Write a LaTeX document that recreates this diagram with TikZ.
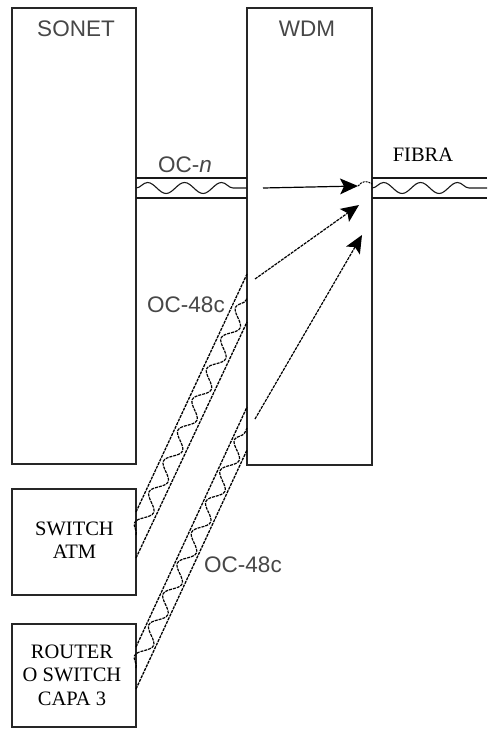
\documentclass[tikz,border=0pt]{standalone}
\usepackage{fontspec}
\setmainfont{Liberation Serif}
\newfontfamily\arialf{Liberation Sans}
\usetikzlibrary{decorations.pathmorphing,calc}
\newcommand\myhead[2]{%
  \fill[black] (#2) -- ($(#2)!18pt!(#1)!8pt!90:(#1)$) -- ($(#2)!14pt!(#1)$) -- ($(#2)!18pt!(#1)!8pt!-90:(#1)$) -- cycle;}
\begin{document}
\begin{tikzpicture}[x=1pt,y=-1pt,
  box/.style={draw=black!85,line width=1.4pt,inner sep=0pt,outer sep=0pt,rectangle},
  sanslbl/.style={font=\arialf\fontsize{22.5}{26}\selectfont,text=black!72,inner sep=0pt,anchor=base},
  serlbl/.style={font=\fontsize{20.5}{23.5}\selectfont,align=center,inner sep=0pt},
  chan/.style={line width=1.2pt,draw=black!90},
  wave/.style={line width=1.1pt,draw=black!90,decorate,decoration={snake,segment length=37pt,amplitude=5.5pt}},
  dchan/.style={line width=1.3pt,draw=black,dash pattern=on 3pt off 1pt},
  dwave/.style={line width=1.2pt,draw=black,dash pattern=on 3pt off 1pt,decorate,decoration={snake,segment length=34pt,amplitude=6.5pt}},
  arr/.style={line width=1.2pt,draw=black,shorten >=14pt},
  darr/.style={arr,dash pattern=on 3pt off 1pt},
]
\useasboundingbox (0,0) rectangle (487,730);
\fill[white] (0,0) rectangle (487,730);

% boxes
\node[box,minimum width=124pt,minimum height=456pt] (sonet) at (74,236) {};
\node[box,minimum width=125pt,minimum height=457pt] (wdm) at (309.5,236.5) {};
\node[box,minimum width=124pt,minimum height=106pt] (atm) at (74,542) {};
\node[box,minimum width=124pt,minimum height=103pt] (router) at (74,675.5) {};

% labels
\node[sanslbl] (sonetlbl) at (76,37) {SONET};
\node[sanslbl] (wdmlbl) at (307,37) {WDM};
\node[sanslbl] (ocnlbl) at (185,172) {OC-{\itshape n}};
\node[sanslbl] (oc1lbl) at (186,312) {OC-48c};
\node[sanslbl] (oc2lbl) at (243,572) {OC-48c};
\node[serlbl,anchor=base] (fibralbl) at (423,162) {FIBRA};
\node[serlbl] (atmlbl) at (74.5,540) {SWITCH\\ATM};
\node[serlbl] (routerlbl) at (72,675) {ROUTER\\O SWITCH\\CAPA 3};

% OC-n channel
\draw[chan] (sonet.east |- 0,178) -- (wdm.west |- 0,178);
\draw[chan] (sonet.east |- 0,198) -- (wdm.west |- 0,198);
\draw[wave] (sonet.east |- 0,188) -- (wdm.west |- 0,188);

% fibre channel
\coordinate (fend1) at (487,178);
\coordinate (fend2) at (487,198);
\coordinate (fend3) at (487,188);
\draw[chan] (wdm.east |- 0,178) -- (fend1);
\draw[chan] (wdm.east |- 0,198) -- (fend2);
\draw[wave] (wdm.east |- 0,188) -- (fend3);

% diagonal channel 1 (ATM)
\draw[dchan] (atm.east |- 0,512) -- (wdm.west |- 0,274);
\draw[dchan] (atm.east |- 0,558) -- (wdm.west |- 0,322);
\draw[dwave] (atm.east |- 0,535) -- (wdm.west |- 0,298);

% diagonal channel 2 (router)
\draw[dchan] (router.east |- 0,647) -- (wdm.west |- 0,407);
\draw[dchan] (router.east |- 0,689) -- (wdm.west |- 0,450);
\draw[dwave] (router.east |- 0,668) -- (wdm.west |- 0,428);

% arrows inside WDM
\coordinate (a1s) at (263,188);
\coordinate (a1e) at (358,186);
\coordinate (a2s) at (255,279);
\coordinate (a2e) at (359,205);
\coordinate (a3s) at (255,419);
\coordinate (a3e) at (362,235);
\draw[arr] (a1s) -- (a1e);
\draw[darr] (a2s) -- (a2e);
\draw[darr] (a3s) -- (a3e);
\myhead{a1s}{a1e}
\myhead{a2s}{a2e}
\myhead{a3s}{a3e}
\draw[line width=1pt,dash pattern=on 2pt off 1pt] (a1e) .. controls (362,181) and (367,180) .. (wdm.east |- 0,184);
\end{tikzpicture}
\end{document}
